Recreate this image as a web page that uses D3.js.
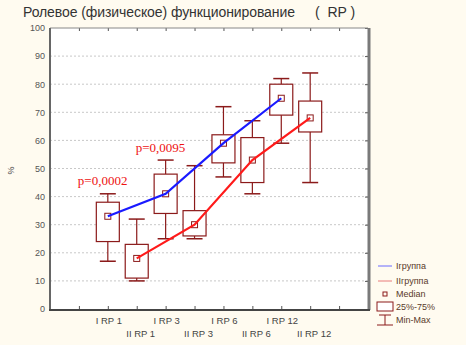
<!DOCTYPE html>
<html>
<head>
<meta charset="utf-8">
<script src="https://cdn.jsdelivr.net/npm/d3@7"></script>
<style>
  body { margin: 0; background: #fffbf0; }
  svg { display: block; font-family: Arial, "Liberation Sans", sans-serif; }
</style>
</head>
<body>
<div id="chart"></div>
<script>
// categories, in plot order
var labels = ["I RP 1", "II RP 1", "I RP 3", "II RP 3", "I RP 6", "II RP 6", "I RP 12", "II RP 12"];
var groups = [1, 2, 1, 2, 1, 2, 1, 2];
// box values
var mins    = [17, 10, 25, 25, 47, 41, 59, 45];
var q1      = [24, 11, 34, 26, 52, 45, 69, 63];
var medians = [33, 18, 41, 30, 59, 53, 75, 68];
var q3      = [38, 23, 48, 35, 62, 61, 80, 74];
var maxs    = [41, 32, 53, 51, 72, 67, 82, 84];
var yTicks = [0, 10, 20, 30, 40, 50, 60, 70, 80, 90, 100];
var pLabels = [{text: "p=0,0002", pos: 2, v: 44}, {text: "p=0,0095", pos: 4, v: 56}];
var legendItems = ["Iгруппа", "IIгруппа", "Median", "25%-75%", "Min-Max"];

var W = 466, H = 345;
var margin = {top: 28, right: 98, bottom: 36, left: 50};
var width = W - margin.left - margin.right,
    height = H - margin.top - margin.bottom;

var boxColor = "#8b1a1a";

var svg = d3.select("#chart").append("svg")
  .attr("width", W).attr("height", H);

svg.append("rect").attr("width", W).attr("height", H).attr("fill", "#fffbf0");

// title
svg.append("text")
  .attr("x", 23).attr("y", 17)
  .attr("font-size", 14)
  .attr("textLength", 272)
  .attr("fill", "#333")
  .text("Ролевое (физическое) функционирование");
svg.append("text")
  .attr("x", 315).attr("y", 17)
  .attr("font-size", 14)
  .attr("fill", "#333")
  .attr("xml:space", "preserve")
  .text("(  RP )");

var g = svg.append("g").attr("transform", `translate(${margin.left},${margin.top})`);

g.append("rect").attr("width", width).attr("height", height).attr("fill", "#fff");

var x = d3.scaleLinear().domain([0, 11]).range([0, width]);
var y = d3.scaleLinear().domain([0, 100]).range([height, 0]);

// grid
g.selectAll(".grid").data(yTicks.slice(1, -1)).join("line")
  .attr("x1", 0).attr("x2", width)
  .attr("y1", d => y(d)).attr("y2", d => y(d))
  .attr("stroke", "#c8c8c8").attr("stroke-dasharray", "2,2");

// y axis
var yAxis = d3.axisLeft(y).tickValues(yTicks).tickSize(0).tickPadding(5);
g.append("g").call(yAxis)
  .call(a => a.select(".domain").remove())
  .selectAll("text").attr("font-size", 9).attr("fill", "#555").attr("font-family", "Arial");

// top / right ticks
g.append("g").call(d3.axisBottom(x).tickValues(d3.range(1, 11)).tickSize(3).tickFormat(""))
  .call(a => a.select(".domain").remove())
  .selectAll("line").attr("stroke", "#555");
g.append("g").attr("transform", `translate(${width},0)`)
  .call(d3.axisLeft(y).tickValues(yTicks).tickSize(3).tickFormat(""))
  .call(a => a.select(".domain").remove())
  .selectAll("line").attr("stroke", "#555");

// bottom ticks
g.append("g").attr("transform", `translate(0,${height})`)
  .call(d3.axisTop(x).tickValues(d3.range(1, 11)).tickSize(3).tickFormat(""))
  .call(a => a.select(".domain").remove())
  .selectAll("line").attr("stroke", "#555");

// frame
g.append("line").attr("x1", 0).attr("x2", width).attr("y1", 0).attr("y2", 0).attr("stroke", "#888");
g.append("line").attr("x1", width + 1).attr("x2", width + 1).attr("y1", 0).attr("y2", height + 1)
  .attr("stroke", "#7a7a7a").attr("stroke-width", 3);
g.append("line").attr("x1", 0).attr("x2", 0).attr("y1", 0).attr("y2", height + 1)
  .attr("stroke", "#666").attr("stroke-width", 2);
g.append("line").attr("x1", -1).attr("x2", width + 2).attr("y1", height + 1).attr("y2", height + 1)
  .attr("stroke", "#444").attr("stroke-width", 2);

// x labels, two rows
g.selectAll(".xl").data(labels).join("text")
  .attr("x", (d, i) => x(i + 2) + (groups[i] === 1 ? 1 : 4))
  .attr("y", (d, i) => height + (groups[i] === 1 ? 15 : 28))
  .attr("text-anchor", "middle")
  .attr("font-size", 9.5).attr("fill", "#444")
  .text(d => d);

g.append("text")
  .attr("transform", `translate(-36,${y(50) + 6}) rotate(-90)`)
  .attr("font-size", 9).attr("fill", "#444")
  .text("%");

// boxes
var bw = 23, cw = 16;
var boxes = g.selectAll(".box").data(labels).join("g")
  .attr("transform", (d, i) => `translate(${x(i + 2)},0)`);
boxes.append("line")
  .attr("y1", (d, i) => y(maxs[i])).attr("y2", (d, i) => y(q3[i]))
  .attr("stroke", boxColor).attr("stroke-width", 1.2);
boxes.append("line")
  .attr("y1", (d, i) => y(q1[i])).attr("y2", (d, i) => y(mins[i]))
  .attr("stroke", boxColor).attr("stroke-width", 1.2);
boxes.append("line")
  .attr("x1", -cw / 2).attr("x2", cw / 2)
  .attr("y1", (d, i) => y(maxs[i])).attr("y2", (d, i) => y(maxs[i]))
  .attr("stroke", boxColor).attr("stroke-width", 1.5);
boxes.append("line")
  .attr("x1", -cw / 2).attr("x2", cw / 2)
  .attr("y1", (d, i) => y(mins[i])).attr("y2", (d, i) => y(mins[i]))
  .attr("stroke", boxColor).attr("stroke-width", 1.5);
boxes.append("rect")
  .attr("x", -bw / 2).attr("width", bw)
  .attr("y", (d, i) => y(q3[i]))
  .attr("height", (d, i) => y(q1[i]) - y(q3[i]))
  .attr("fill", "#fff").attr("stroke", boxColor).attr("stroke-width", 1.2);

// median lines per group
var line = d3.line().x(d => x(d.pos)).y(d => y(d.v));
[1, 2].forEach(function(gr) {
  var pts = labels.map((d, i) => ({pos: i + 2, v: medians[i], g: groups[i]})).filter(d => d.g === gr);
  g.append("path").datum(pts)
    .attr("d", line)
    .attr("fill", "none")
    .attr("stroke", gr === 1 ? "#1a1aff" : "#ff1a1a")
    .attr("stroke-width", 2.2);
});

// median squares
boxes.append("rect")
  .attr("x", -3).attr("y", (d, i) => y(medians[i]) - 3)
  .attr("width", 6).attr("height", 6)
  .attr("fill", "none").attr("stroke", boxColor).attr("stroke-width", 1);

// p-values
g.selectAll(".pl").data(pLabels).join("text")
  .attr("x", d => x(d.pos) - 30)
  .attr("y", d => y(d.v))
  .attr("font-family", "'Liberation Serif', 'Times New Roman', serif")
  .attr("font-size", 13).attr("fill", "#ee1111")
  .text(d => d.text);

// legend
var lg = svg.append("g").attr("transform", "translate(376,0)");
var ly = [266, 281, 294, 307, 320];
lg.append("line").attr("x1", 2).attr("x2", 16).attr("y1", ly[0]).attr("y2", ly[0]).attr("stroke", "#6a6aff");
lg.append("line").attr("x1", 2).attr("x2", 16).attr("y1", ly[1]).attr("y2", ly[1]).attr("stroke", "#e87a7a");
lg.append("rect").attr("x", 7).attr("y", ly[2] - 2).attr("width", 4).attr("height", 4)
  .attr("fill", "none").attr("stroke", boxColor);
lg.append("rect").attr("x", 1).attr("y", ly[3] - 5).attr("width", 16).attr("height", 9)
  .attr("fill", "#fff").attr("stroke", boxColor);
lg.append("line").attr("x1", 9).attr("x2", 9).attr("y1", ly[4] - 5).attr("y2", ly[4] + 5).attr("stroke", boxColor);
lg.append("line").attr("x1", 3).attr("x2", 15).attr("y1", ly[4] - 5).attr("y2", ly[4] - 5).attr("stroke", boxColor);
lg.append("line").attr("x1", 1).attr("x2", 17).attr("y1", ly[4] + 5).attr("y2", ly[4] + 5).attr("stroke", boxColor);
lg.selectAll(".lt").data(legendItems).join("text")
  .attr("x", 20).attr("y", (d, i) => ly[i] + 3)
  .attr("font-size", 9).attr("fill", "#5a3a2a")
  .text(d => d);
</script>
</body>
</html>
